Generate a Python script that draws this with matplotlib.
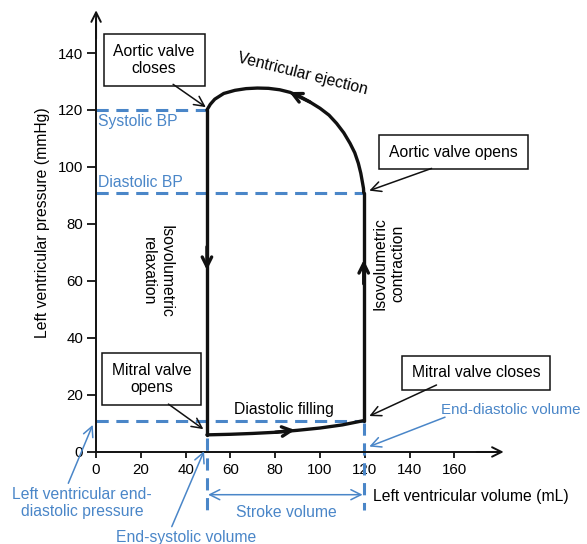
import matplotlib.pyplot as plt
import numpy as np

plt.rcParams['font.family'] = ['Liberation Sans', 'DejaVu Sans']

# pressure-volume loop (volume mL, pressure mmHg)
filling_vol = [49.5, 60, 70, 80, 90, 100, 110, 119.5]
filling_p = [6.0, 6.2, 6.5, 6.9, 7.6, 8.4, 9.5, 11.0]
contraction_vol = [119.5, 119.5]
contraction_p = [11.0, 91.0]
ejection_vol = [119.5, 119.4, 119.0, 118.2, 117.1, 115.5, 113.4, 110.6, 107.4, 104.0, 100.0,
                95.5, 91.1, 86.6, 82.0, 77.0, 72.0, 67.0, 62.0, 57.0, 53.0, 51.0, 49.5]
ejection_p = [91.0, 92.5, 94.3, 97.8, 101.3, 105.0, 108.3, 112.0, 115.3, 118.2, 120.6,
              122.8, 124.7, 126.2, 127.1, 127.6, 127.7, 127.5, 126.9, 125.8, 123.8, 122.0, 120.0]
relaxation_vol = [49.5, 49.5]
relaxation_p = [120.0, 6.0]

esv = 49.5
edv = 119.5
systolic_bp = 120
diastolic_bp = 91
lvedp = 11

xticks = [0, 20, 40, 60, 80, 100, 120, 140, 160]
yticks = [0, 20, 40, 60, 80, 100, 120, 140]

blue = '#4a86c8'
black = '#111111'
fs = 11.3

fig = plt.figure(figsize=(5.87, 5.44), dpi=100)
ax = fig.add_axes([0, 0, 1, 1])
ax.set_xlim(-42.9, 219.2)
ax.set_ylim(-32.3, 158.6)

# axes through the origin, with open arrow heads
for side in ['top', 'right']:
    ax.spines[side].set_visible(False)
ax.spines['left'].set_position(('data', 0))
ax.spines['bottom'].set_position(('data', 0))
ax.spines['left'].set_bounds(0, 152)
ax.spines['bottom'].set_bounds(0, 180)
for side in ['left', 'bottom']:
    ax.spines[side].set_linewidth(1.4)
    ax.spines[side].set_color(black)
ax.annotate('', xy=(182, 0), xytext=(170, 0),
            arrowprops=dict(arrowstyle='->', lw=1.4, color=black, mutation_scale=17, shrinkA=0, shrinkB=0))
ax.annotate('', xy=(0, 155), xytext=(0, 145),
            arrowprops=dict(arrowstyle='->', lw=1.4, color=black, mutation_scale=17, shrinkA=0, shrinkB=0))

ax.set_xticks(xticks)
ax.set_yticks(yticks)
ax.tick_params(axis='x', direction='out', length=4.2, width=1.3, labelsize=10.8, pad=4, color=black)
ax.tick_params(axis='y', direction='out', length=6.3, width=1.3, labelsize=10.8, pad=3, color=black)

ax.text(-23.9, 80.5, 'Left ventricular pressure (mmHg)', rotation=90,
        ha='center', va='center', fontsize=fs)
ax.text(123.7, -15.5, 'Left ventricular volume (mL)', ha='left', va='center', fontsize=fs)

# reference dashed lines
dash = dict(color=blue, lw=2.2, dashes=(4, 2.5))
ax.plot([0, esv], [systolic_bp, systolic_bp], **dash)
ax.plot([0, edv], [diastolic_bp, diastolic_bp], **dash)
ax.plot([0, edv], [lvedp, lvedp], **dash)
ax.plot([esv, esv], [5, -20.5], **dash)
ax.plot([edv, edv], [10, -20.5], **dash)

ax.text(1, 115.8, 'Systolic BP', color=blue, ha='left', va='center', fontsize=fs)
ax.text(1, 94.6, 'Diastolic BP', color=blue, ha='left', va='center', fontsize=fs)

# the loop
loop = dict(color=black, lw=2.4, solid_capstyle='round', solid_joinstyle='round')
ax.plot(filling_vol, filling_p, **loop)
ax.plot(contraction_vol, contraction_p, **loop)
ax.plot(ejection_vol, ejection_p, **loop)
ax.plot(relaxation_vol, relaxation_p, **loop)

head = dict(arrowstyle='->', lw=2.4, color=black, mutation_scale=17, shrinkA=0, shrinkB=0)
ax.annotate('', xy=(esv, 63.8), xytext=(esv, 72), arrowprops=head)
ax.annotate('', xy=(edv, 67.4), xytext=(edv, 59), arrowprops=head)
ax.annotate('', xy=(88.8, 7.7), xytext=(80, 6.9), arrowprops=head)
ax.annotate('', xy=(86.3, 126.3), xytext=(95.5, 122.8), arrowprops=head)

# phase labels
ax.text(92.4, 132.6, 'Ventricular ejection', rotation=-14, ha='center', va='center', fontsize=fs)
ax.text(27.4, 63.3, 'Isovolumetric\nrelaxation', rotation=-90, ha='center', va='center',
        multialignment='center', fontsize=fs)
ax.text(130.8, 66.2, 'Isovolumetric\ncontraction', rotation=90, ha='center', va='center',
        multialignment='center', fontsize=fs)
ax.text(84, 14.8, 'Diastolic filling', ha='center', va='center', fontsize=fs)

# valve event boxes
box = dict(boxstyle='square,pad=0.62', fc='white', ec=black, lw=1.1)
thin = dict(arrowstyle='->', lw=1.1, color=black, mutation_scale=18, shrinkA=0, shrinkB=0)

ax.text(25.9, 137.6, 'Aortic valve\ncloses', ha='center', va='center', fontsize=fs, bbox=box)
ax.annotate('', xy=(49, 121), xytext=(34.4, 129), arrowprops=thin)

ax.text(159.6, 105.2, 'Aortic valve opens', ha='center', va='center', fontsize=fs, bbox=box)
ax.annotate('', xy=(122, 91.7), xytext=(149.8, 99.5), arrowprops=thin)

ax.text(24.8, 25.7, 'Mitral valve\nopens', ha='center', va='center', fontsize=fs, bbox=box)
ax.annotate('', xy=(47.9, 8.0), xytext=(32.3, 16.8), arrowprops=thin)

ax.text(169.8, 27.8, 'Mitral valve closes', ha='center', va='center', fontsize=fs, bbox=box)
ax.annotate('', xy=(122, 12.6), xytext=(152, 23.5), arrowprops=thin)

# volume / pressure callouts in blue
bthin = dict(arrowstyle='->', lw=1.1, color=blue, mutation_scale=18, shrinkA=0, shrinkB=0)
ax.text(154, 14.7, 'End-diastolic volume', color=blue, ha='left', va='center', fontsize=10.9)
ax.annotate('', xy=(122, 1.9), xytext=(155.8, 12.2), arrowprops=bthin)

ax.text(-6.2, -18, 'Left ventricular end-\ndiastolic pressure', color=blue, ha='center',
        va='center', multialignment='center', fontsize=fs)
ax.annotate('', xy=(-1.5, 9.5), xytext=(-12.4, -11), arrowprops=bthin)

ax.text(40.2, -30, 'End-systolic volume', color=blue, ha='center', va='center', fontsize=fs)
ax.annotate('', xy=(48.2, 0.3), xytext=(33.8, -26.2), arrowprops=bthin)

ax.annotate('', xy=(esv + 0.5, -15), xytext=(edv - 0.5, -15),
            arrowprops=dict(arrowstyle='<->', lw=1.1, color=blue, mutation_scale=18, shrinkA=0, shrinkB=0))
ax.text(84.8, -21.2, 'Stroke volume', color=blue, ha='center', va='center', fontsize=fs)

fig.savefig('out.png', dpi=100)
